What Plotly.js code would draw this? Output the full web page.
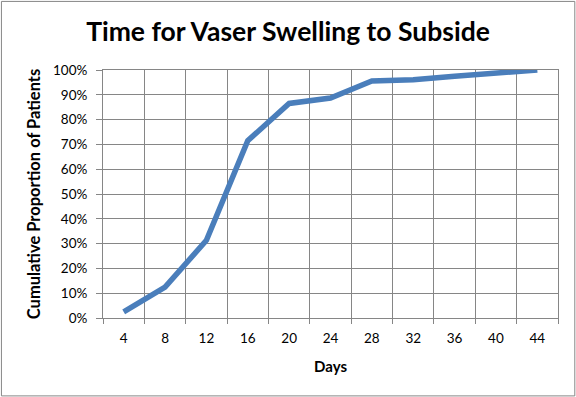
<!DOCTYPE html>
<html><head><meta charset="utf-8">
<script src="https://cdn.plot.ly/plotly-3.0.1.min.js"></script>
<style>html,body{margin:0;padding:0;background:#fff}#c{width:576px;height:397px}</style>
</head><body><div id="c"></div>
<script>
const days = ["4","8","12","16","20","24","28","32","36","40","44"];
const cumulative = [0.025, 0.125, 0.313, 0.715, 0.865, 0.887, 0.956, 0.961, 0.975, 0.985, 1.0];
const yTicks = [0,0.1,0.2,0.3,0.4,0.5,0.6,0.7,0.8,0.9,1.0];

const L=103, R=557.7, T=70, B=317.7;
const W=R-L, H=B-T;
const font = "Lato, 'Open Sans', sans-serif";

Plotly.newPlot('c', [{
  x: days, y: cumulative, type: 'scatter', mode: 'lines',
  line: {color: '#4a7ebb', width: 5.5}, hoverinfo: 'skip'
}], {
  width: 576, height: 397,
  margin: {l: L, r: 576-R, t: T, b: 397-B, pad: 0},
  paper_bgcolor: '#fff', plot_bgcolor: '#fff',
  showlegend: false,
  title: {text: '<b>Time for Vaser Swelling to Subside</b>', x: 0.5, xanchor: 'center', y: 1-32/397, yanchor: 'middle',
          font: {family: font, size: 26.5, color: '#000'}},
  xaxis: {type: 'category', range: [-0.5, days.length-0.5], tickson: 'boundaries', ticks: 'outside', ticklen: 5, tickcolor: '#868686',
          showgrid: true, gridcolor: '#868686', gridwidth: 1,
          showline: true, linecolor: '#868686', mirror: true, zeroline: false,
          ticklabelstandoff: 8,
          tickfont: {family: font, size: 13.5, color: '#000'},
          title: {text: '<b>Days</b>', font: {family: font, size: 15, color: '#000'}, standoff: 16}},
  yaxis: {range: [0, 1], tickvals: yTicks, tickformat: '.0%', ticks: 'outside', ticklen: 6, tickcolor: '#868686',
          showgrid: true, gridcolor: '#868686', gridwidth: 1,
          showline: true, linecolor: '#868686', mirror: true, zeroline: false,
          ticklabelstandoff: 6,
          tickfont: {family: font, size: 13.5, color: '#000'},
          title: {text: '<b>Cumulative Proportion of Patients</b>', font: {family: font, size: 16.5, color: '#000'}, standoff: 8}},
  shapes: [{type: 'rect', xref: 'paper', yref: 'paper',
            x0: (1.5-L)/W, x1: (574.5-L)/W, y0: (B-395.5)/H, y1: (B-1.5)/H,
            line: {color: '#868686', width: 1}, fillcolor: 'rgba(0,0,0,0)', layer: 'below'}]
}, {staticPlot: true});
</script></body></html>
